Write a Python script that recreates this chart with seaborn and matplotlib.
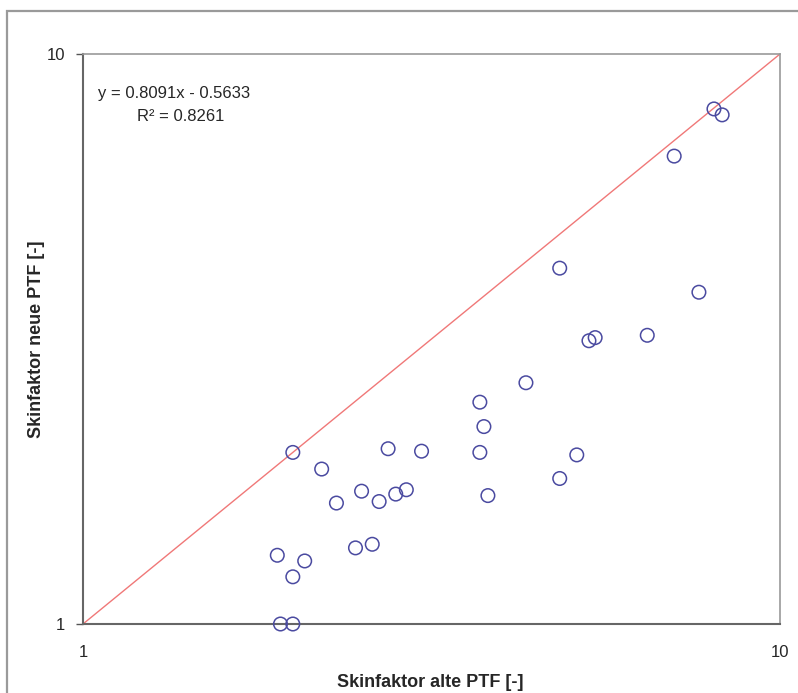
import numpy as np
import pandas as pd
import seaborn as sns
import matplotlib.pyplot as plt
from matplotlib.patches import Rectangle

# Skinfaktor values (old PTF vs new PTF)
skin_alt = [8.04, 8.26, 7.05, 4.83, 7.65, 5.43, 5.32, 6.45, 4.32, 3.71,
            3.76, 3.71, 4.83, 5.11, 3.81, 2.00, 2.74, 3.06, 2.20, 2.51,
            2.31, 2.66, 2.81, 2.91, 1.90, 2.08, 2.00, 2.46, 2.60, 1.92, 2.00]
skin_neu = [8.01, 7.82, 6.62, 4.21, 3.82, 3.18, 3.14, 3.21, 2.65, 2.45,
            2.22, 2.00, 1.80, 1.98, 1.68, 2.00, 2.03, 2.01, 1.87, 1.71,
            1.63, 1.64, 1.69, 1.72, 1.32, 1.29, 1.21, 1.36, 1.38, 1.00, 1.00]
axis_lim = [1, 10]
eq_text = "y = 0.8091x - 0.5633"
r2_text = "R² = 0.8261"

df = pd.DataFrame({"alt": skin_alt, "neu": skin_neu})

sns.set_style("white")
plt.rcParams["font.family"] = ["Liberation Sans", "DejaVu Sans"]

fig = plt.figure(figsize=(7.98, 6.93), dpi=100)
ax = fig.add_axes([83 / 798, 1 - 624 / 693, 697 / 798, 570 / 693])

# outer chart frame (grey border)
fig.patches.append(Rectangle((7 / 798, -0.1), 1.1, 1 - 11 / 693 + 0.1,
                             transform=fig.transFigure, fill=False,
                             edgecolor="#9a9a9a", linewidth=1.6))

ax.plot(axis_lim, axis_lim, color="#f07878", linewidth=1.0, zorder=1)
sns.scatterplot(data=df, x="alt", y="neu", ax=ax, marker="o", s=95,
                facecolor="none", edgecolor="#4a4aa0", linewidth=1.1,
                zorder=3, clip_on=False)

ax.set_xscale("log")
ax.set_yscale("log")
ax.set_xlim(axis_lim)
ax.set_ylim(axis_lim)
ax.set_xticks(axis_lim)
ax.set_yticks(axis_lim)
ax.set_xticklabels(["1", "10"])
ax.set_yticklabels(["1", "10"])
ax.minorticks_off()
ax.tick_params(axis="y", which="major", length=5, width=1, color="#555555",
               pad=8, labelsize=12, left=True)
ax.tick_params(axis="x", which="major", length=0, pad=15, labelsize=12,
               bottom=True)

for side in ["left", "bottom"]:
    ax.spines[side].set_color("#666666")
    ax.spines[side].set_linewidth(1.5)
for side in ["top", "right"]:
    ax.spines[side].set_color("#999999")
    ax.spines[side].set_linewidth(1.2)

ax.set_xlabel("Skinfaktor alte PTF [-]", fontsize=13, fontweight="bold",
              va="center")
ax.xaxis.set_label_coords(0.498, -0.102)
ax.set_ylabel("Skinfaktor neue PTF [-]", fontsize=13, fontweight="bold",
              va="center")
ax.yaxis.set_label_coords(-0.066, 0.5)

ax.text(0.021, 0.93, eq_text, transform=ax.transAxes, fontsize=12,
        ha="left", va="center")
ax.text(0.078, 0.89, r2_text, transform=ax.transAxes, fontsize=12,
        ha="left", va="center")

fig.savefig("out.png", dpi=100)
